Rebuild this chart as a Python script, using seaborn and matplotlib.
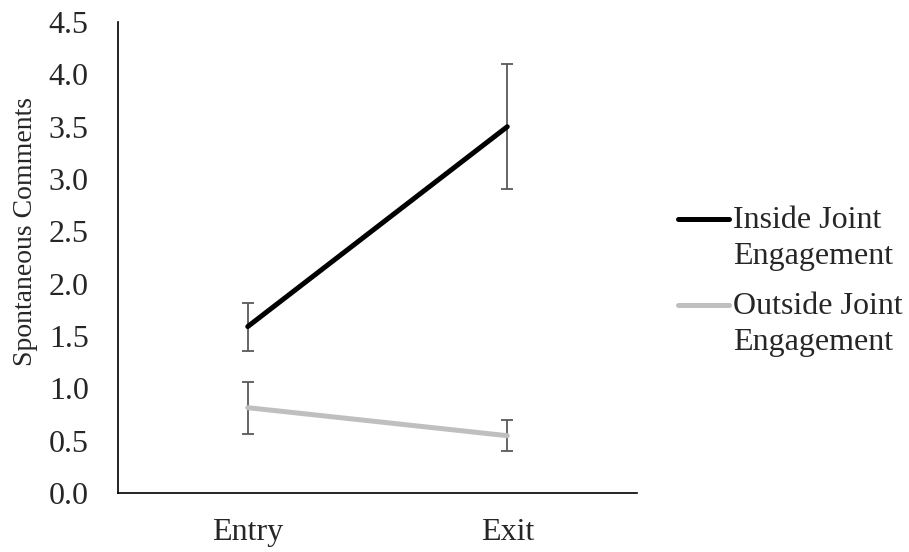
import numpy as np
import pandas as pd
import seaborn as sns
import matplotlib.pyplot as plt
from matplotlib.lines import Line2D
from matplotlib.legend_handler import HandlerLine2D

times = ["Entry", "Exit"]
inside_mean = [1.59, 3.50]
inside_err = [0.23, 0.60]
outside_mean = [0.815, 0.547]
outside_err = [0.25, 0.15]
groups = ["Inside Joint\nEngagement", "Outside Joint\nEngagement"]

df = pd.DataFrame({
    "Time": times * 2,
    "Comments": inside_mean + outside_mean,
    "Err": inside_err + outside_err,
    "Group": [groups[0]] * 2 + [groups[1]] * 2,
})


# legend handle next to the first line of a two-line label
class FirstLineHandler(HandlerLine2D):
    def create_artists(self, legend, orig_handle, xdescent, ydescent,
                       width, height, fontsize, trans):
        arts = super().create_artists(legend, orig_handle, xdescent, ydescent,
                                      width, height, fontsize, trans)
        for a in arts:
            a.set_ydata(np.asarray(a.get_ydata()) + 0.62 * fontsize)
        return arts


sns.set_style("white")
plt.rcParams["font.family"] = ["Liberation Serif", "DejaVu Serif"]

fig = plt.figure(figsize=(9.09, 5.52), dpi=100)
ax = fig.add_axes([0.1298, 0.107, 0.571, 0.853])

sns.lineplot(data=df, x="Time", y="Comments", hue="Group",
             palette=["black", "#bfbfbf"], linewidth=3.6, ax=ax,
             zorder=3, solid_capstyle="round")

for g in groups:
    sub = df[df["Group"] == g]
    ax.errorbar(range(len(sub)), sub["Comments"], yerr=sub["Err"], fmt="none",
                ecolor="#595959", elinewidth=1.3, capsize=4, capthick=1.3,
                zorder=2)

ax.set_xlim(-0.5, 1.5)
ax.set_ylim(0, 4.5)
ax.set_yticks([i * 0.5 for i in range(10)])
ax.set_yticklabels([f"{i * 0.5:.1f}" for i in range(10)])
ax.tick_params(axis="both", labelsize=23, length=0)
ax.tick_params(axis="y", pad=21)
ax.tick_params(axis="x", pad=18)
ax.set_xlabel("")
ax.set_ylabel("Spontaneous Comments", fontsize=20)
ax.yaxis.set_label_coords(-0.154, 0.556)

sns.despine(ax=ax)
for s in ["left", "bottom"]:
    ax.spines[s].set_color("black")
    ax.spines[s].set_linewidth(1.2)

handles, labels = ax.get_legend_handles_labels()
leg = ax.legend(handles, labels, loc="upper left", bbox_to_anchor=(1.055, 0.636),
                frameon=False, fontsize=23, handlelength=1.6, handletextpad=0.12,
                labelspacing=0.67, borderaxespad=0,
                handler_map={Line2D: FirstLineHandler()})
for t in leg.get_texts():
    t.set_linespacing(1.3)

fig.savefig("out.png", dpi=100)
